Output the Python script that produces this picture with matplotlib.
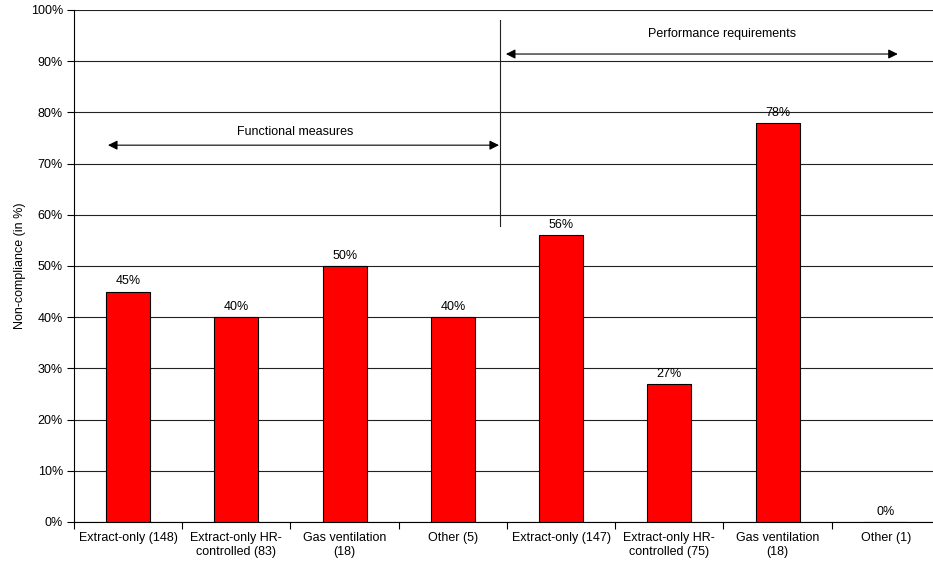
import matplotlib.pyplot as plt
from matplotlib.ticker import FuncFormatter, FixedLocator

# Data
categories = ['Extract-only (148)', 'Extract-only HR-\ncontrolled (83)', 'Gas ventilation\n(18)', 'Other (5)',
              'Extract-only (147)', 'Extract-only HR-\ncontrolled (75)', 'Gas ventilation\n(18)', 'Other (1)']
values = [45, 40, 50, 40, 56, 27, 78, 0]
group_labels = ['Functional measures', 'Performance requirements']

plt.rcParams['font.family'] = ['Liberation Sans', 'DejaVu Sans']
plt.rcParams['font.size'] = 9


def main():
    fig = plt.figure(figsize=(9.33, 5.68), dpi=100)
    # axes run slightly past the right edge of the figure, as in the original
    ax = fig.add_axes([0.0793, 0.081, 0.9282, 0.9014])

    x = list(range(len(categories)))
    ax.bar(x, values, width=0.406, color='#ff0000', edgecolor='black', linewidth=0.8, zorder=3)

    for xi, v in zip(x, values):
        ax.text(xi, v + 0.8, f'{v}%', ha='center', va='bottom', fontsize=9, zorder=4)

    ax.set_xlim(-0.5, len(categories) - 0.5)
    ax.set_ylim(0, 100)
    ax.set_yticks(range(0, 101, 10))
    ax.yaxis.set_major_formatter(FuncFormatter(lambda v, p: f'{int(v)}%'))
    ax.yaxis.grid(True, color='#222222', linewidth=0.8, zorder=0)
    ax.set_axisbelow(True)

    # category labels centred, ticks on boundaries
    ax.set_xticks(x)
    ax.set_xticklabels(categories, fontsize=9)
    ax.tick_params(axis='x', which='major', length=0, pad=7)
    ax.xaxis.set_minor_locator(FixedLocator([i - 0.5 for i in range(len(categories) + 1)]))
    ax.tick_params(axis='x', which='minor', length=5, width=0.8, direction='out')
    ax.tick_params(axis='y', length=5, width=0.8, direction='out', labelsize=9, pad=3)

    ax.spines['top'].set_visible(False)
    ax.spines['right'].set_visible(False)
    ax.spines['left'].set_linewidth(0.8)
    ax.spines['bottom'].set_linewidth(0.8)

    ax.set_ylabel('Non-compliance (in %)', fontsize=9, labelpad=3)

    # separator and group arrows
    ax.plot([3.435, 3.435], [57.8, 98], color='#222222', linewidth=0.8, zorder=4)
    ax.annotate('', xy=(-0.186, 73.6), xytext=(3.426, 73.6),
                arrowprops=dict(arrowstyle='<|-|>', color='black', lw=0.8, mutation_scale=14,
                                shrinkA=0, shrinkB=0), zorder=4)
    ax.text(1.54, 76.2, group_labels[0], ha='center', va='center', fontsize=9)
    ax.annotate('', xy=(3.49, 91.4), xytext=(7.11, 91.4),
                arrowprops=dict(arrowstyle='<|-|>', color='black', lw=0.8, mutation_scale=14,
                                shrinkA=0, shrinkB=0), zorder=4)
    ax.text(5.486, 95.3, group_labels[1], ha='center', va='center', fontsize=9)

    fig.savefig('out.png', dpi=100)


if __name__ == '__main__':
    main()
